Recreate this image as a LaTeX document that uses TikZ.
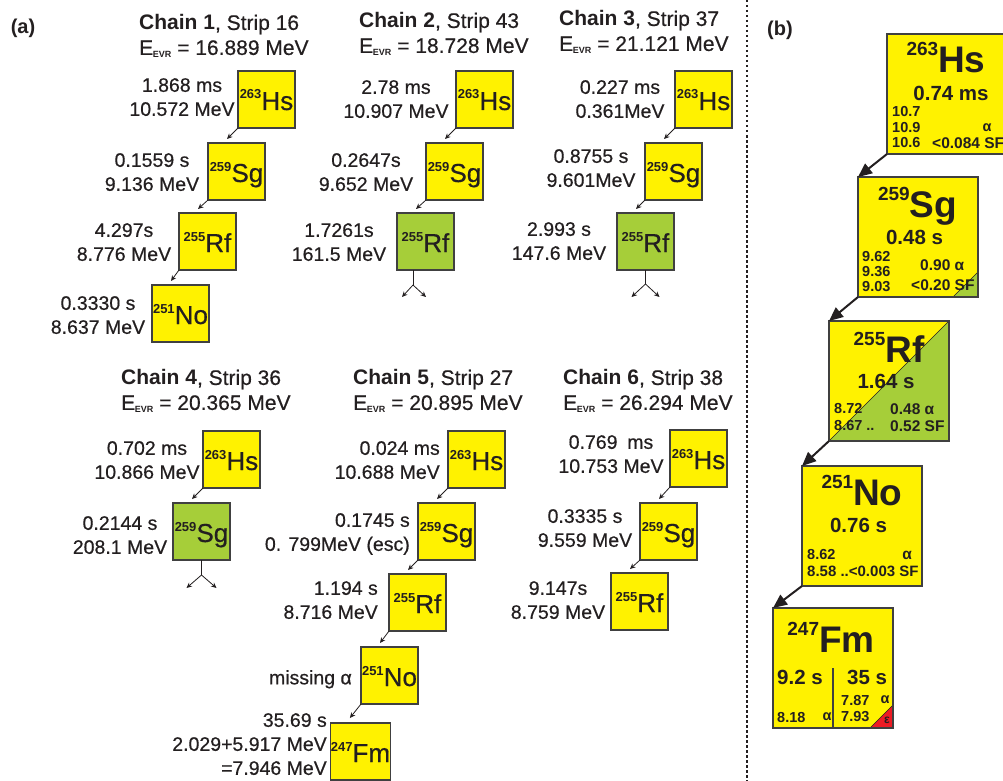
\documentclass[tikz,border=0pt]{standalone}
\usepackage{fontspec}
\setmainfont{Liberation Sans}[UprightFeatures={FakeBold=0.5}]
\usetikzlibrary{arrows.meta}
\definecolor{nyel}{RGB}{255,242,0}
\definecolor{ngrn}{RGB}{166,206,57}
\definecolor{nred}{RGB}{237,28,36}
\definecolor{nbrd}{RGB}{64,64,64}
\definecolor{ntxt}{RGB}{35,31,32}
\newcommand{\fsz}[1]{\fontsize{#1}{#1}\selectfont}
\newcommand{\nucA}[2]{\raisebox{11pt}{\fsz{13}\bfseries #1}{\fsz{26}#2}}
\newcommand{\nucB}[2]{\raisebox{17pt}{\fsz{19}\bfseries #1}{\fsz{37}\bfseries #2}}
\newcommand{\evr}{E\kern-0.3pt\raisebox{-3pt}{\fsz{9}\bfseries EVR}}
\begin{document}
\begin{tikzpicture}[x=1pt,y=-1pt,text=ntxt,
 boxa/.style={draw=nbrd,line width=1.1pt,fill=nyel,minimum size=57pt,inner sep=0pt,outer sep=0pt,text height=26pt,text depth=5pt},
 grna/.style={boxa,fill=ngrn},
 lab/.style={font=\fontsize{19.5}{24}\selectfont,align=center,inner sep=0pt,anchor=north},
 labr/.style={lab,align=right,anchor=north east},
 head/.style={font=\fontsize{21}{25}\selectfont,align=left,inner sep=0pt,anchor=north west},
 arra/.style={-{Stealth[length=5.5pt,width=5pt]},line width=0.8pt,draw=ntxt},
 forkl/.style={line width=0.8pt,draw=ntxt},
 boxb/.style={draw=nbrd,line width=1.6pt,fill=nyel,minimum size=120pt,inner sep=0pt,outer sep=0pt},
 bord/.style={draw=nbrd,line width=1.6pt},
 arrb/.style={-{Triangle[length=14pt,width=12pt]},line width=2pt,draw=ntxt},
 sm/.style={font=\fsz{14.5}\bfseries,inner sep=0pt},
 smw/.style={sm,anchor=west},
 smr/.style={font=\fsz{15.5}\bfseries,inner sep=0pt,anchor=west},
 hl/.style={font=\fsz{20.5}\bfseries,inner sep=0pt},
 nuc/.style={inner sep=0pt,anchor=base},
 panel/.style={font=\fsz{20}\bfseries,inner sep=0pt}
]
\useasboundingbox (0,0) rectangle (1003,781);

% panel labels and separator
\node[panel] (pa) at (23,28) {(a)};
\node[panel] (pb) at (780,30) {(b)};
\draw[line width=2.5pt,dash pattern=on 2.5pt off 2.5pt,draw=ntxt] (747,0) -- (747,781);

% headers
\node[head] (h1) at (139,14.5) {\textbf{Chain 1}, Strip 16\\\evr{} = 16.889 MeV};
\node[head] (h2) at (359,12.5) {\textbf{Chain 2}, Strip 43\\\evr{} = 18.728 MeV};
\node[head] (h3) at (559,10.5) {\textbf{Chain 3}, Strip 37\\\evr{} = 21.121 MeV};
\node[head] (h4) at (121,369.5) {\textbf{Chain 4}, Strip 36\\\evr{} = 20.365 MeV};
\node[head] (h5) at (353,369.5) {\textbf{Chain 5}, Strip 27\\\evr{} = 20.895 MeV};
\node[head] (h6) at (563,369.5) {\textbf{Chain 6}, Strip 38\\\evr{} = 26.294 MeV};

% chain 1
\node[boxa] (c1hs) at (266.5,99.5) {\nucA{263}{Hs}};
\node[boxa] (c1sg) at (236.5,171.5) {\nucA{259}{Sg}};
\node[boxa] (c1rf) at (207.5,241.5) {\nucA{255}{Rf}};
\node[boxa] (c1no) at (180.5,313.5) {\nucA{251}{No}};
\node[lab] (l1hs) at (182,78) {1.868 ms\\10.572 MeV};
\node[lab] (l1sg) at (152,153) {0.1559 s\\9.136 MeV};
\node[lab] (l1rf) at (124,223) {4.297s\\8.776 MeV};
\node[lab] (l1no) at (98,296) {0.3330 s\\8.637 MeV};
\draw[arra] (c1hs.south west) -- ([shift={(19,-4)}]c1sg.north west);
\draw[arra] (c1sg.south west) -- ([shift={(19,-4)}]c1rf.north west);
\draw[arra] (c1rf.south west) -- ([shift={(19,-4)}]c1no.north west);

% chain 2
\node[boxa] (c2hs) at (484.5,99.5) {\nucA{263}{Hs}};
\node[boxa] (c2sg) at (454.5,171.5) {\nucA{259}{Sg}};
\node[grna] (c2rf) at (425.5,241.5) {\nucA{255}{Rf}};
\node[lab] (l2hs) at (396,80) {2.78 ms\\10.907 MeV};
\node[lab] (l2sg) at (366,153) {0.2647s\\9.652 MeV};
\node[lab] (l2rf) at (339,223) {1.7261s\\161.5 MeV};
\draw[arra] (c2hs.south west) -- ([shift={(19,-4)}]c2sg.north west);
\draw[arra] (c2sg.south west) -- ([shift={(19,-4)}]c2rf.north west);
\coordinate (c2f) at ([shift={(-12.5,15)}]c2rf.south);
\coordinate (c2fl) at ([shift={(-11,12)}]c2f);
\coordinate (c2fr) at ([shift={(13,12)}]c2f);
\draw[forkl] ([xshift=-12.5pt]c2rf.south) -- (c2f);
\draw[arra] (c2f) -- (c2fl);
\draw[arra] (c2f) -- (c2fr);

% chain 3
\node[boxa] (c3hs) at (703.5,99.5) {\nucA{263}{Hs}};
\node[boxa] (c3sg) at (673.5,171.5) {\nucA{259}{Sg}};
\node[grna] (c3rf) at (645.5,241.5) {\nucA{255}{Rf}};
\node[lab] (l3hs) at (620,80) {0.227 ms\\0.361MeV};
\node[lab] (l3sg) at (591,149) {0.8755 s\\9.601MeV};
\node[lab] (l3rf) at (559,222) {2.993 s\\147.6 MeV};
\draw[arra] (c3hs.south west) -- ([shift={(19,-4)}]c3sg.north west);
\draw[arra] (c3sg.south west) -- ([shift={(19,-4)}]c3rf.north west);
\coordinate (c3f) at ([shift={(0,14)}]c3rf.south);
\coordinate (c3fl) at ([shift={(-14,13)}]c3f);
\coordinate (c3fr) at ([shift={(14,13)}]c3f);
\draw[forkl] (c3rf.south) -- (c3f);
\draw[arra] (c3f) -- (c3fl);
\draw[arra] (c3f) -- (c3fr);

% chain 4
\node[boxa] (c4hs) at (231.5,459.5) {\nucA{263}{Hs}};
\node[grna] (c4sg) at (201.5,531.5) {\nucA{259}{Sg}};
\node[lab] (l4hs) at (147,441) {0.702 ms\\10.866 MeV};
\node[lab] (l4sg) at (120,516) {0.2144 s\\208.1 MeV};
\draw[arra] (c4hs.south west) -- ([shift={(19,-4)}]c4sg.north west);
\coordinate (c4f) at ([shift={(0,15)}]c4sg.south);
\coordinate (c4fl) at ([shift={(-15,13)}]c4f);
\coordinate (c4fr) at ([shift={(15,13)}]c4f);
\draw[forkl] (c4sg.south) -- (c4f);
\draw[arra] (c4f) -- (c4fl);
\draw[arra] (c4f) -- (c4fr);

% chain 5
\node[boxa] (c5hs) at (476.5,459.5) {\nucA{263}{Hs}};
\node[boxa] (c5sg) at (446.5,531.5) {\nucA{259}{Sg}};
\node[boxa] (c5rf) at (417.5,602.5) {\nucA{255}{Rf}};
\node[boxa] (c5no) at (389.5,675.5) {\nucA{251}{No}};
\node[boxa] (c5fm) at (360.5,751.5) {\nucA{247}{Fm}};
\node[labr] (l5hs) at (440,441) {0.024 ms\\10.688 MeV};
\node[labr] (l5sg) at (410,513) {0.1745 s\\0. 799MeV (esc)};
\node[labr] (l5rf) at (378,581) {1.194 s\\8.716 MeV};
\node[labr] (l5no) at (352,670) {missing α};
\node[labr] (l5fm) at (327,713) {35.69 s\\2.029+5.917 MeV\\=7.946 MeV};
\draw[arra] (c5hs.south west) -- ([shift={(19,-4)}]c5sg.north west);
\draw[arra] (c5sg.south west) -- ([shift={(19,-4)}]c5rf.north west);
\draw[arra] (c5rf.south west) -- ([shift={(19,-4)}]c5no.north west);
\draw[arra] (c5no.south west) -- ([shift={(19,-5)}]c5fm.north west);

% chain 6
\node[boxa] (c6hs) at (698.5,458.5) {\nucA{263}{Hs}};
\node[boxa] (c6sg) at (668.5,531.5) {\nucA{259}{Sg}};
\node[boxa] (c6rf) at (639.5,601.5) {\nucA{255}{Rf}};
\node[lab] (l6hs) at (611,435) {0.769\enspace ms\\10.753 MeV};
\node[lab] (l6sg) at (585,509) {0.3335 s\\9.559 MeV};
\node[lab] (l6rf) at (558,581) {9.147s\\8.759 MeV};
\draw[arra] (c6hs.south west) -- ([shift={(19,-4)}]c6sg.north west);
\draw[arra] (c6sg.south west) -- ([shift={(19,-4)}]c6rf.north west);

% panel (b) boxes
\node[boxb] (bhs) at (947,94) {};
\node[boxb] (bsg) at (918,237) {};
\node[boxb] (brf) at (889,381) {};
\node[boxb] (bno) at (862,526) {};
\node[boxb] (bfm) at (833,668) {};

\fill[ngrn] (bsg.south east) -- ([xshift=-25pt]bsg.south east) -- ([yshift=25pt]bsg.south east) -- cycle;
\draw[line width=0.5pt,draw=ntxt] ([xshift=-25pt]bsg.south east) -- ([yshift=25pt]bsg.south east);
\fill[ngrn] (brf.south west) -- (brf.north east) -- (brf.south east) -- cycle;
\draw[line width=0.6pt,draw=ntxt] (brf.south west) -- (brf.north east);
\fill[nred] (bfm.south east) -- ([xshift=-23pt]bfm.south east) -- ([yshift=23pt]bfm.south east) -- cycle;
\draw[line width=0.5pt,draw=ntxt] ([xshift=-23pt]bfm.south east) -- ([yshift=23pt]bfm.south east);
\draw[bord] (bsg.south west) rectangle (bsg.north east);
\draw[bord] (brf.south west) rectangle (brf.north east);
\draw[bord] (bfm.south west) rectangle (bfm.north east);
\draw[bord] ([shift={(60,60)}]bfm.north west) -- ([shift={(60,120)}]bfm.north west);

% Hs
\node[nuc] (bhsn) at ([shift={(59,39)}]bhs.north west) {\nucB{263}{Hs}};
\node[hl] (bhst) at ([shift={(64,59)}]bhs.north west) {0.74 ms};
\node[smw] (bhs1) at ([shift={(5,78)}]bhs.north west) {10.7};
\node[smw] (bhs2) at ([shift={(5,94)}]bhs.north west) {10.9};
\node[smw] (bhs3) at ([shift={(5,109)}]bhs.north west) {10.6};
\node[sm] (bhs4) at ([shift={(100,94)}]bhs.north west) {α};
\node[smr] (bhs5) at ([shift={(45,109)}]bhs.north west) {<0.084 SF};
% Sg
\node[nuc] (bsgn) at ([shift={(59.5,40)}]bsg.north west) {\nucB{259}{Sg}};
\node[hl] (bsgt) at ([shift={(56.5,60)}]bsg.north west) {0.48 s};
\node[smw] (bsg1) at ([shift={(4,80)}]bsg.north west) {9.62};
\node[smw] (bsg2) at ([shift={(4,95)}]bsg.north west) {9.36};
\node[smw] (bsg3) at ([shift={(4,110)}]bsg.north west) {9.03};
\node[smr] (bsg4) at ([shift={(62,88)}]bsg.north west) {0.90 α};
\node[smr] (bsg5) at ([shift={(53,108)}]bsg.north west) {<0.20 SF};
% Rf
\node[nuc] (brfn) at ([shift={(60,41)}]brf.north west) {\nucB{255}{Rf}};
\node[hl] (brft) at ([shift={(57,60)}]brf.north west) {1.64 s};
\node[smw] (brf1) at ([shift={(5,88)}]brf.north west) {8.72};
\node[smw] (brf2) at ([shift={(5,105)}]brf.north west) {8.67 ..};
\node[smr] (brf3) at ([shift={(61,88)}]brf.north west) {0.48 α};
\node[smr] (brf4) at ([shift={(61,105)}]brf.north west) {0.52 SF};
% No
\node[nuc] (bnon) at ([shift={(60,39)}]bno.north west) {\nucB{251}{No}};
\node[hl] (bnot) at ([shift={(56.5,59)}]bno.north west) {0.76 s};
\node[smw] (bno1) at ([shift={(5,89)}]bno.north west) {8.62};
\node[smw,font=\fsz{15}\bfseries] (bno2) at ([shift={(5,105)}]bno.north west) {8.58 ..<0.003 SF};
\node[sm,font=\fsz{15.5}\bfseries] (bno3) at ([shift={(105,89)}]bno.north west) {α};
% Fm
\node[nuc] (bfmn) at ([shift={(58,44)}]bfm.north west) {\nucB{247}{Fm}};
\node[hl,anchor=west] (bfmt1) at ([shift={(4,69)}]bfm.north west) {9.2 s};
\node[hl,anchor=west] (bfmt2) at ([shift={(74,69)}]bfm.north west) {35 s};
\node[smw] (bfm1) at ([shift={(4,109)}]bfm.north west) {8.18};
\node[sm] (bfm2) at ([shift={(54,109)}]bfm.north west) {α};
\node[smw] (bfm3) at ([shift={(68,92)}]bfm.north west) {7.87};
\node[sm] (bfm4) at ([shift={(112,92)}]bfm.north west) {α};
\node[smw] (bfm5) at ([shift={(68,109)}]bfm.north west) {7.93};
\node[font=\fsz{12}\bfseries,inner sep=0pt] (bfm6) at ([shift={(114,112)}]bfm.north west) {ε};

% panel (b) arrows
\draw[arrb] (bhs.south west) -- (bsg.north west);
\draw[arrb] (bsg.south west) -- (brf.north west);
\draw[arrb] (brf.south west) -- (bno.north west);
\draw[arrb] (bno.south west) -- (bfm.north west);
\end{tikzpicture}
\end{document}
